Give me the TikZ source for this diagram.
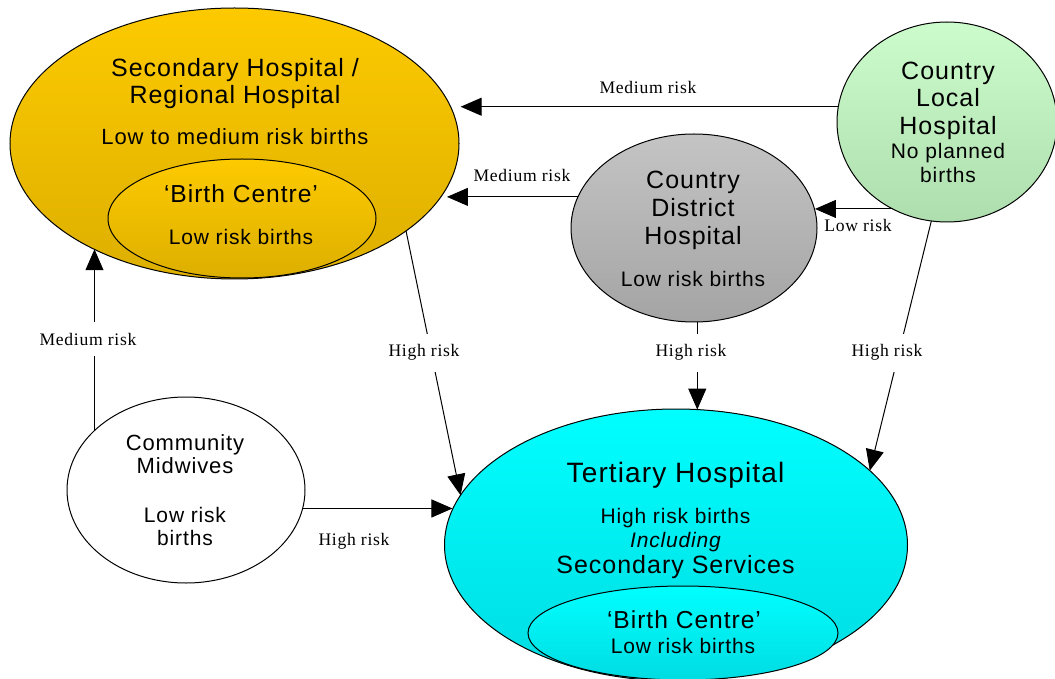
\documentclass[tikz,border=0pt]{standalone}
\usepackage{fontspec}
\setsansfont{Liberation Sans}[LetterSpace=4]
\newfontfamily\riskfont{Liberation Serif}[LetterSpace=4]
\usetikzlibrary{shapes.geometric,arrows.meta}
\definecolor{secTop}{RGB}{253,202,0}
\definecolor{secBot}{RGB}{221,175,0}
\definecolor{distTop}{RGB}{196,196,196}
\definecolor{distBot}{RGB}{164,164,164}
\definecolor{localTop}{RGB}{204,252,204}
\definecolor{localBot}{RGB}{174,222,174}
\definecolor{terTop}{RGB}{0,255,255}
\definecolor{terBot}{RGB}{0,220,226}
\newcommand\fsz[1]{\fontsize{#1}{#1}\selectfont}

\begin{document}
\begin{tikzpicture}[x=0.5pt, y=-0.5pt,
    hosp/.style = {ellipse, draw, line width=0.5pt, inner sep=0pt, outer sep=0pt},
    flow/.style = {draw, line width=0.5pt, -{Triangle[length=10.5pt, width=9pt]}},
    txt/.style = {anchor=base, inner sep=0pt, font=\sffamily\fsz{#1}},
    risk/.style = {anchor=base, inner sep=0pt, font=\riskfont\fsz{8.8}},
    riskcut/.style = {risk, fill=white, inner xsep=2pt, inner ysep=5.5pt}
  ]
  \fill[white] (0,0) rectangle (1055,679);
  \useasboundingbox (0,0) rectangle (1055,679);

  % hospitals
  \node[hosp, minimum width=224.5pt, minimum height=135.5pt,
        top color=secTop, bottom color=secBot] (sec) at (234.5,143.5) {};
  \node[hosp, minimum width=134pt, minimum height=59.5pt,
        top color=secTop, bottom color=secBot] (secbc) at (242,218.5) {};
  \node[hosp, minimum width=123pt, minimum height=94pt,
        top color=distTop, bottom color=distBot] (dist) at (694,228) {};
  \node[hosp, minimum width=110pt, minimum height=100pt,
        top color=localTop, bottom color=localBot] (local) at (947,122) {};
  \node[hosp, minimum width=231.5pt, minimum height=136pt,
        top color=terTop, bottom color=terBot] (ter) at (676,545) {};
  \node[hosp, minimum width=155pt, minimum height=47pt,
        top color=terTop, bottom color=terBot] (terbc) at (683,633) {};
  \node[hosp, minimum width=119pt, minimum height=93pt, fill=white] (mid) at (186,490) {};

  % referrals
  \draw[flow, shorten >=4.5pt] (local.172.7) -- (local.172.7 -| sec.9.3)
    node[risk] at (648,94) {Medium risk};
  \draw[flow, shorten >=2.5pt] (dist.165.05) -- (dist.165.05 -| sec.-14.54)
    node[risk] at (522,182) {Medium risk};
  \draw[flow] (local.238.1) -- (local.238.1 -| dist.8.96)
    node[risk] at (858,232) {Low risk};
  \draw[flow] (local.261.4) -- (ter.21.64)
    node[riskcut] at (887,357) {High risk};
  \draw[flow] (dist.-88.2) -- (dist.-88.2 |- ter.81.18)
    node[riskcut] at (691,357) {High risk};
  \draw[flow] (sec.-27.98) -- (ter.167.5)
    node[riskcut] at (424,357) {High risk};
  \draw[flow] (mid.147.3) -- (mid.147.3 |- sec.-143.04)
    node[riskcut] at (88,345) {Medium risk};
  \draw[flow] (mid.-9.77) -- (mid.-9.77 -| ter.171.1)
    node[risk] at (354,545) {High risk};

  % texts
  \node[txt=12.5] (secl1) at (235,77) {Secondary Hospital /};
  \node[txt=12.5] (secl2) at (235,104) {Regional Hospital};
  \node[txt=11] (secl3) at (235,145) {Low to medium risk births};
  \node[txt=12.3] (secbcl1) at (241,203) {‘Birth Centre’};
  \node[txt=10.5] (secbcl2) at (241,245) {Low risk births};

  \node[txt=12.5] (distl1) at (693,189) {Country};
  \node[txt=12.5] (distl2) at (693,217) {District};
  \node[txt=12.5] (distl3) at (693,245) {Hospital};
  \node[txt=10.5] (distl4) at (693,286) {Low risk births};

  \node[txt=12.5] (locall1) at (948,80) {Country};
  \node[txt=12.5] (locall2) at (948,107) {Local};
  \node[txt=12.5] (locall3) at (948,135) {Hospital};
  \node[txt=10.5] (locall4) at (948,159) {No planned};
  \node[txt=10.5] (locall5) at (948,183) {births};

  \node[txt=14] (terl1) at (675.5,482) {Tertiary Hospital};
  \node[txt=10.5] (terl2) at (675.5,523) {High risk births};
  \node[txt=10.5] (terl3) at (675.5,547) {\itshape Including};
  \node[txt=12.5] (terl4) at (675.5,573) {Secondary Services};
  \node[txt=12.3] (terbcl1) at (684,628) {‘Birth Centre’};
  \node[txt=10.5] (terbcl2) at (683,653) {Low risk births};

  \node[txt=11] (midl1) at (185,450) {Community};
  \node[txt=11] (midl2) at (185,473) {Midwives};
  \node[txt=10.5] (midl3) at (185,522) {Low risk};
  \node[txt=10.5] (midl4) at (185,545) {births};
\end{tikzpicture}
\end{document}
